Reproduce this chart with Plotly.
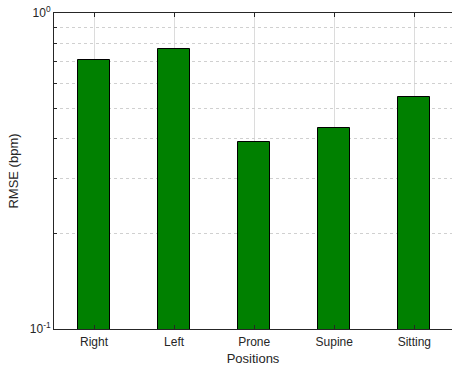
import plotly.graph_objects as go

categories = ["Right", "Left", "Prone", "Supine", "Sitting"]
rmse = [0.710, 0.772, 0.390, 0.432, 0.542]
ytick_vals = [0.1, 0.2, 0.3, 0.4, 0.5, 0.6, 0.7, 0.8, 0.9, 1.0]
ytick_text = ["10<sup>-1</sup>", "", "", "", "", "", "", "", "", "10<sup>0</sup>"]

fig = go.Figure()
fig.add_trace(go.Bar(
    x=categories, y=rmse, width=0.4,
    marker=dict(color="rgb(0,128,0)", line=dict(color="black", width=1)),
))

font = dict(family="Liberation Sans, Arial, sans-serif", size=12, color="#262626")
fig.update_layout(
    width=452, height=366,
    margin=dict(l=54, r=0, t=13, b=37),
    plot_bgcolor="white", paper_bgcolor="white",
    font=font, showlegend=False,
    bargap=0,
)
fig.update_xaxes(
    range=[-0.5, 4.47],
    showline=True, linecolor="#262626", linewidth=1, mirror="ticks",
    ticks="inside", ticklen=4, tickcolor="#262626",
    showgrid=True, gridcolor="#dcdcdc", gridwidth=1,
    ticklabelstandoff=2,
    title=dict(text="Positions", font=dict(size=13), standoff=5),
    tickfont=dict(size=12),
)
fig.update_yaxes(
    type="log", range=[-1, 0],
    tickvals=ytick_vals, ticktext=ytick_text,
    showline=True, linecolor="#262626", linewidth=1,
    ticks="inside", ticklen=3, tickcolor="#262626",
    showgrid=True, gridcolor="#d0d0d0", griddash="dot", gridwidth=1,
    zeroline=False,
    title=dict(text="RMSE (bpm)", font=dict(size=13), standoff=8),
    tickfont=dict(size=12),
)
fig.write_html("out.html")
